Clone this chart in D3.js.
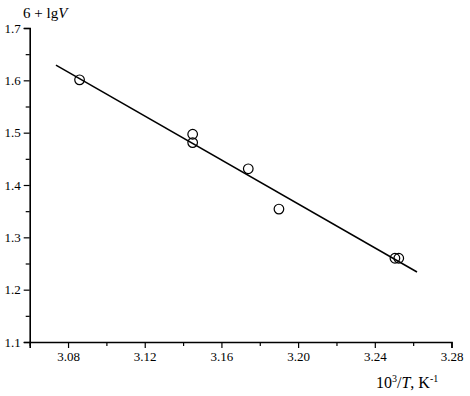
<!DOCTYPE html>
<html><head><meta charset="utf-8">
<script src="https://cdn.jsdelivr.net/npm/d3@7"></script>
<style>body{margin:0;background:#fff}svg{display:block}</style>
</head><body>
<script>
const pointX = [3.086, 3.145, 3.145, 3.174, 3.190, 3.2505, 3.2525];
const pointY = [1.601, 1.497, 1.481, 1.431, 1.354, 1.260, 1.260];
const lineX = [3.0737, 3.262];
const lineY = [1.629, 1.2338];
const xTicks = [3.08, 3.12, 3.16, 3.20, 3.24, 3.28];
const xMinor = [3.06, 3.10, 3.14, 3.18, 3.22, 3.26];
const yTicks = [1.1, 1.2, 1.3, 1.4, 1.5, 1.6, 1.7];
const yMinor = [1.15, 1.25, 1.35, 1.45, 1.55, 1.65];

const FONT = "'Liberation Serif', 'Times New Roman', serif";
const W = 470, H = 396;
const svg = d3.select("body").append("svg").attr("width", W).attr("height", H);
const x = d3.scaleLinear().domain([3.06, 3.28]).range([29.7, 451.5]);
const y = d3.scaleLinear().domain([1.1, 1.7]).range([342, 28]);

const gxm = svg.append("g").attr("transform", `translate(0,${y(1.1)})`)
  .call(d3.axisBottom(x).tickValues(xMinor).tickSize(4).tickFormat(""));
const gym = svg.append("g").attr("transform", `translate(${x(3.06)},0)`)
  .call(d3.axisLeft(y).tickValues(yMinor).tickSize(4).tickFormat(""));
const gx = svg.append("g").attr("transform", `translate(0,${y(1.1)})`)
  .call(d3.axisBottom(x).tickValues(xTicks).tickSize(6).tickPadding(4).tickFormat(d3.format(".2f")));
const gy = svg.append("g").attr("transform", `translate(${x(3.06)},0)`)
  .call(d3.axisLeft(y).tickValues(yTicks).tickSize(6).tickPadding(3).tickFormat(d3.format(".1f")));
[gxm, gym, gx, gy].forEach(g => {
  g.selectAll(".domain").attr("stroke", "#000").attr("stroke-width", 1.6);
  g.selectAll(".tick line").attr("stroke", "#000").attr("stroke-width", 1.2);
  g.selectAll("text").style("font-family", FONT).style("font-size", "13px").attr("fill", "#000");
});
[gxm, gym].forEach(g => g.selectAll(".domain").remove());

const pts = lineX.map((v, i) => [v, lineY[i]]);
svg.append("path").datum(pts)
  .attr("d", d3.line().x(d => x(d[0])).y(d => y(d[1])))
  .attr("fill", "none").attr("stroke", "#000").attr("stroke-width", 1.5);

svg.append("g").selectAll("circle").data(pointX.map((v, i) => [v, pointY[i]])).join("circle")
  .attr("cx", d => x(d[0])).attr("cy", d => y(d[1])).attr("r", 4.8)
  .attr("fill", "none").attr("stroke", "#000").attr("stroke-width", 1.2);

const ty = svg.append("text").attr("x", 23).attr("y", 18)
  .style("font-family", FONT).style("font-size", "15px");
ty.append("tspan").text("6 + lg");
ty.append("tspan").attr("font-style", "italic").text("V");

const tx = svg.append("text").attr("x", 376).attr("y", 388)
  .style("font-family", FONT).style("font-size", "16px");
tx.append("tspan").text("10");
tx.append("tspan").style("font-size", "10px").attr("dy", -6).text("3");
tx.append("tspan").attr("dy", 6).text("/");
tx.append("tspan").attr("font-style", "italic").text("T");
tx.append("tspan").text(", K");
tx.append("tspan").style("font-size", "10px").attr("dy", -6).text("-1");
</script>
</body></html>
